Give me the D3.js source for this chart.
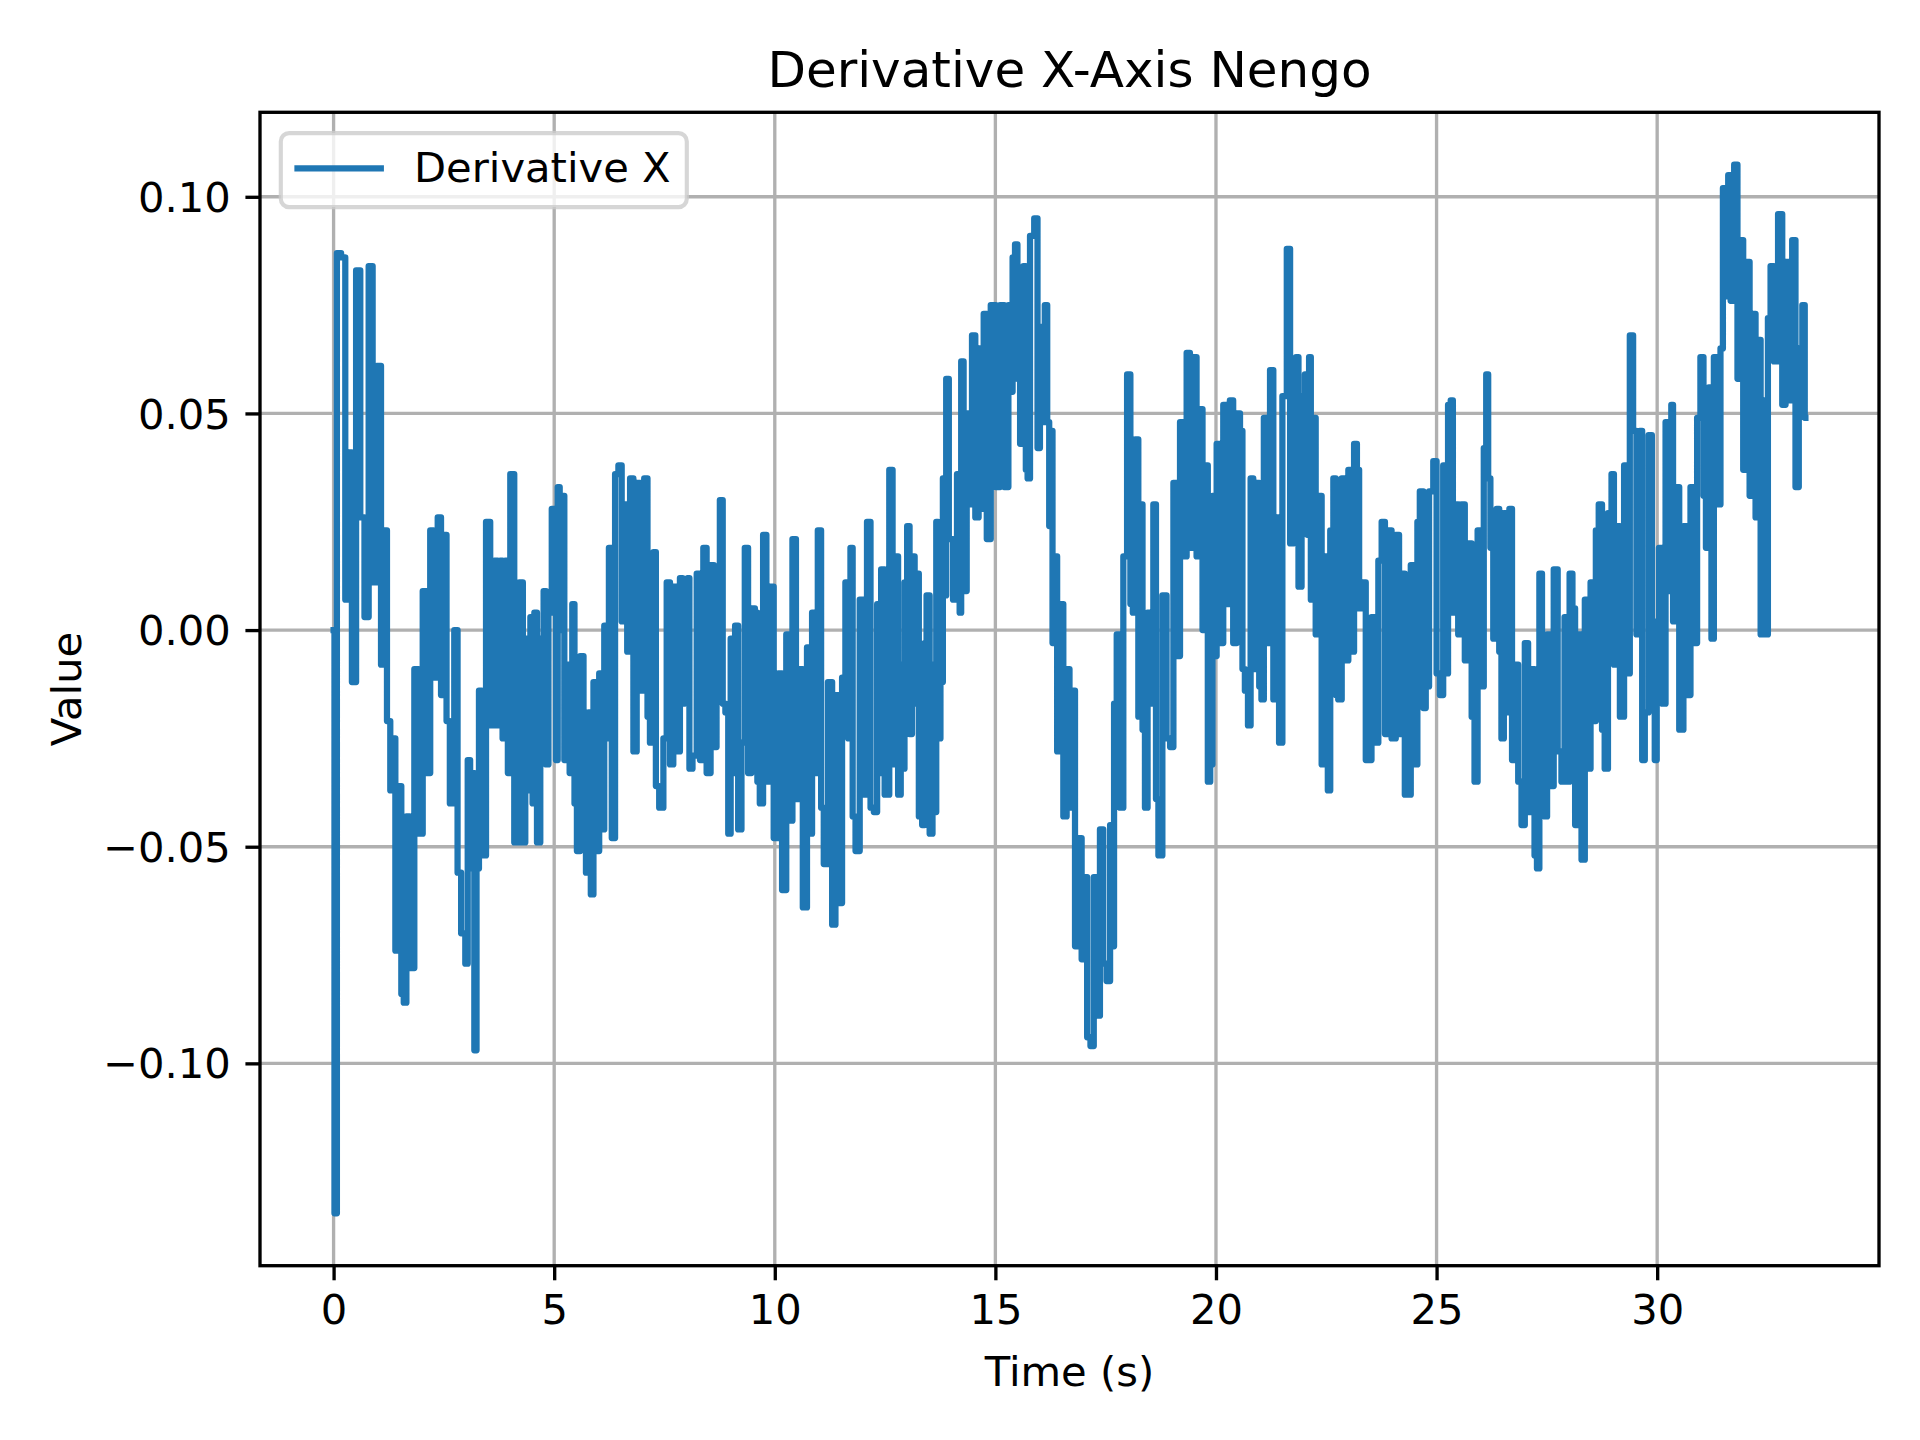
<!DOCTYPE html>
<html>
<head>
<meta charset="utf-8">
<title>Derivative X-Axis Nengo</title>
<script src="https://cdn.jsdelivr.net/npm/d3@7"></script>
<style>
  html, body { margin: 0; padding: 0; background: #ffffff; }
  svg { display: block; font-family: "DejaVu Sans", sans-serif; }
</style>
</head>
<body>
<div id="derivative-chart"></div>
<script>
// -------------------------------------------------------------------------
// Data (seconds / value)

const timeS = [
  // 0 - 5 s
  0.00, 0.04, 0.11, 0.23, 0.30, 0.38, 0.45, 0.57, 0.64, 0.76, 0.83, 0.94, 1.02, 1.13, 1.17, 1.25,
  1.32, 1.36, 1.44, 1.51, 1.56, 1.62, 1.68, 1.77, 1.89, 1.96, 2.08, 2.15, 2.23, 2.30, 2.42, 2.45,
  2.53, 2.59, 2.68, 2.79, 2.83, 2.95, 3.02, 3.06, 3.13, 3.17, 3.21, 3.27, 3.32, 3.40, 3.51, 3.59,
  3.70, 3.74, 3.81, 3.85, 3.93, 3.97, 4.04, 4.15, 4.27, 4.31, 4.38, 4.43, 4.49, 4.53, 4.57, 4.65,
  4.72, 4.80, 4.83, 4.91, 4.98,
  // 5 - 10 s
  5.02, 5.06, 5.10, 5.15, 5.21, 5.25, 5.32, 5.38, 5.44, 5.48, 5.55, 5.63, 5.70, 5.74, 5.81, 5.85,
  5.93, 6.00, 6.04, 6.12, 6.15, 6.21, 6.27, 6.34, 6.42, 6.49, 6.57, 6.63, 6.68, 6.76, 6.83, 6.91,
  6.98, 7.10, 7.13, 7.21, 7.29, 7.32, 7.44, 7.51, 7.59, 7.66, 7.74, 7.81, 7.89, 7.93, 7.96, 8.00,
  8.05, 8.08, 8.19, 8.27, 8.34, 8.42, 8.49, 8.60, 8.64, 8.72, 8.79, 8.85, 8.91, 8.98, 9.02, 9.07,
  9.13, 9.21, 9.28, 9.36, 9.43, 9.51, 9.59, 9.62, 9.70, 9.77, 9.85, 9.92,
  // 10 - 15 s
  10.03, 10.13, 10.20, 10.32, 10.35, 10.45, 10.51, 10.58, 10.69, 10.77, 10.81, 10.88, 10.92, 11.03,
  11.07, 11.15, 11.26, 11.34, 11.41, 11.49, 11.56, 11.64, 11.69, 11.74, 11.79, 11.87, 11.98, 12.05,
  12.13, 12.21, 12.28, 12.36, 12.39, 12.43, 12.55, 12.64, 12.70, 12.77, 12.82, 12.89, 12.92, 12.96,
  13.04, 13.07, 13.15, 13.19, 13.23, 13.30, 13.38, 13.41, 13.47, 13.55, 13.60, 13.64, 13.68, 13.72,
  13.79, 13.83, 13.87, 13.90, 13.99, 14.09, 14.17, 14.21, 14.24, 14.32, 14.38, 14.43, 14.51, 14.58,
  14.66, 14.70,
  // 15 - 20 s
  14.77, 14.84, 14.95, 15.07, 15.14, 15.26, 15.33, 15.37, 15.41, 15.48, 15.52, 15.60, 15.67, 15.71,
  15.75, 15.82, 15.94, 15.97, 16.05, 16.09, 16.15, 16.20, 16.24, 16.28, 16.31, 16.37, 16.43, 16.50,
  16.58, 16.65, 16.71, 16.77, 16.84, 16.92, 16.99, 17.05, 17.11, 17.20, 17.26, 17.33, 17.41, 17.48,
  17.56, 17.64, 17.67, 17.71, 17.79, 17.86, 17.94, 18.03, 18.09, 18.14, 18.20, 18.28, 18.32, 18.35,
  18.43, 18.47, 18.54, 18.62, 18.66, 18.73, 18.84, 18.92, 19.00, 19.07, 19.15, 19.22, 19.30, 19.37,
  19.45, 19.52, 19.60, 19.68, 19.71, 19.79, 19.84, 19.90,
  // 20 - 25 s
  19.94, 19.98, 20.05, 20.13, 20.20, 20.28, 20.35, 20.43, 20.51, 20.58, 20.62, 20.69, 20.76, 20.81,
  20.88, 20.96, 21.00, 21.06, 21.11, 21.19, 21.26, 21.34, 21.41, 21.45, 21.56, 21.65, 21.71, 21.79,
  21.84, 21.90, 21.98, 22.05, 22.09, 22.13, 22.17, 22.24, 22.28, 22.36, 22.43, 22.51, 22.56, 22.62,
  22.70, 22.73, 22.81, 22.89, 22.96, 23.04, 23.10, 23.16, 23.23, 23.26, 23.38, 23.41, 23.49, 23.56,
  23.64, 23.72, 23.79, 23.87, 23.94, 24.02, 24.13, 24.17, 24.24, 24.32, 24.40, 24.43, 24.55, 24.58,
  24.66, 24.74, 24.77, 24.89, 24.96,
  // 25 - 30 s
  25.04, 25.11, 25.19, 25.23, 25.29, 25.35, 25.39, 25.45, 25.53, 25.60, 25.68, 25.76, 25.83, 25.89,
  25.97, 26.04, 26.10, 26.15, 26.19, 26.25, 26.32, 26.40, 26.44, 26.50, 26.55, 26.62, 26.68, 26.74,
  26.81, 26.89, 26.96, 27.04, 27.11, 27.19, 27.25, 27.30, 27.36, 27.42, 27.48, 27.53, 27.61, 27.70,
  27.79, 27.87, 27.93, 27.98, 28.05, 28.11, 28.17, 28.25, 28.32, 28.40, 28.47, 28.51, 28.59, 28.63,
  28.72, 28.78, 28.84, 28.93, 29.00, 29.04, 29.12, 29.19, 29.31, 29.34, 29.42, 29.49, 29.57, 29.64,
  29.68, 29.76, 29.85, 29.91, 29.98,
  // 30 s - end
  30.00, 30.08, 30.15, 30.23, 30.30, 30.34, 30.38, 30.45, 30.55, 30.64, 30.72, 30.79, 30.87, 30.94,
  31.02, 31.08, 31.13, 31.21, 31.25, 31.32, 31.40, 31.47, 31.51, 31.59, 31.63, 31.70, 31.79, 31.85,
  31.93, 31.97, 32.04, 32.15, 32.19, 32.27, 32.31, 32.38, 32.46, 32.49, 32.53, 32.61, 32.68, 32.80,
  32.87, 32.95, 33.02, 33.10, 33.17, 33.25, 33.33, 33.36
];

const derivX = [
  // 0 - 5 s
  0.000, -0.1346, 0.087, 0.086, 0.007, 0.041, -0.012, 0.083, 0.026, 0.003, 0.084, 0.011, 0.061, -0.008, 0.023, -0.021,
  -0.037, -0.025, -0.074, -0.036, -0.084, -0.086, -0.043, -0.078, -0.009, -0.047, 0.009, -0.033, 0.023, -0.011, 0.026, -0.015,
  0.022, -0.021, -0.040, 0.000, -0.056, -0.070, -0.077, -0.030, -0.055, -0.033, -0.097, -0.055, -0.014, -0.052, 0.025, -0.022,
  0.016, -0.022, 0.016, -0.025, 0.016, -0.033, 0.036, -0.049, 0.011, -0.049, -0.002, -0.037, 0.003, -0.040, 0.004, -0.049,
  -0.002, 0.009, -0.031, 0.004, 0.028,
  // 5 - 10 s
  0.007, -0.030, 0.033, 0.000, 0.031, -0.030, -0.008, -0.033, 0.006, -0.040, -0.051, -0.006, -0.040, -0.056, -0.019, -0.061,
  -0.012, -0.051, -0.010, -0.046, 0.001, -0.025, 0.019, -0.048, 0.036, 0.038, 0.002, 0.029, -0.005, 0.035, -0.028, 0.034,
  -0.014, 0.035, -0.020, -0.026, 0.018, -0.036, -0.041, -0.025, 0.011, -0.031, 0.010, -0.028, 0.012, -0.017, 0.008, -0.015,
  0.012, -0.032, -0.029, 0.013, -0.030, 0.019, -0.033, 0.015, -0.027, 0.000, 0.030, -0.017, -0.019, -0.047, -0.002, -0.033,
  0.001, -0.046, -0.026, 0.019, -0.033, 0.005, 0.004, -0.035, -0.040, 0.022, -0.035, 0.010,
  // 10 - 15 s
  -0.048, -0.010, -0.060, -0.001, -0.044, 0.021, -0.039, -0.009, -0.064, -0.004, -0.047, 0.004, -0.033, 0.023,
  -0.041, -0.054, -0.012, -0.068, -0.015, -0.063, -0.011, 0.011, -0.025, 0.019, -0.043, -0.051, 0.007, -0.038,
  0.025, -0.041, -0.042, 0.006, -0.033, 0.014, -0.038, 0.037, -0.031, 0.017, -0.038, -0.008, -0.032, 0.011,
  0.024, -0.024, 0.017, -0.017, 0.013, -0.043, -0.045, -0.003, 0.008, -0.047, -0.008, -0.042, 0.025, -0.025,
  -0.012, 0.035, 0.008, 0.058, 0.021, 0.007, 0.036, 0.004, 0.062, 0.009, 0.050, 0.029, 0.068, 0.026,
  0.065, 0.028,
  // 15 - 20 s
  0.073, 0.021, 0.075, 0.033, 0.075, 0.033, 0.075, 0.055, 0.086, 0.089, 0.058, 0.043, 0.084, 0.037,
  0.035, 0.091, 0.095, 0.042, 0.070, 0.048, 0.075, 0.048, 0.024, 0.046, -0.003, 0.017, -0.028, 0.006,
  -0.043, -0.009, -0.041, -0.014, -0.073, -0.048, -0.076, -0.057, -0.094, -0.096, -0.057, -0.089, -0.046, -0.077,
  -0.081, -0.045, -0.073, -0.017, -0.001, -0.041, 0.017, 0.059, 0.006, 0.004, 0.044, -0.020, 0.029, -0.023,
  -0.041, 0.004, -0.017, 0.029, -0.039, -0.052, 0.008, -0.025, -0.027, 0.034, -0.006, 0.048, 0.017, 0.064,
  0.019, 0.063, 0.017, 0.051, 0.000, 0.038, -0.035, -0.031,
  // 20 - 25 s
  0.031, -0.006, 0.043, -0.003, 0.052, 0.006, 0.053, -0.003, 0.050, 0.046, -0.009, -0.014, -0.022, 0.035,
  -0.009, 0.034, -0.013, -0.016, 0.049, -0.003, 0.060, -0.016, 0.026, -0.026, 0.054, 0.088, 0.020, 0.054,
  0.063, 0.010, 0.054, 0.059, 0.022, 0.063, 0.007, 0.049, -0.001, 0.031, -0.031, 0.017, -0.037, 0.023,
  0.035, -0.015, -0.016, 0.035, -0.007, 0.037, -0.005, 0.043, 0.037, 0.005, 0.011, -0.030, -0.030, 0.003,
  -0.026, 0.016, 0.025, -0.024, 0.023, -0.025, 0.022, -0.024, 0.013, -0.038, -0.038, 0.015, -0.031, 0.025,
  0.032, -0.018, -0.013, 0.032, 0.039,
  // 25 - 30 s
  -0.010, -0.015, 0.038, -0.010, 0.052, 0.053, 0.004, 0.029, -0.001, 0.029, -0.007, 0.020, -0.020, -0.035,
  0.023, -0.013, 0.042, 0.059, 0.035, 0.019, -0.002, 0.028, -0.005, -0.025, 0.027, -0.019, 0.028, -0.030,
  -0.008, -0.035, -0.045, -0.003, -0.042, -0.009, -0.052, -0.055, 0.013, -0.027, -0.043, -0.001, -0.036, 0.014,
  -0.028, -0.035, 0.003, -0.035, 0.013, 0.005, -0.045, -0.001, -0.053, 0.007, -0.032, 0.011, -0.021, 0.023,
  0.029, -0.023, -0.032, 0.027, 0.036, -0.008, 0.024, -0.020, 0.038, -0.010, 0.068, 0.046, -0.001, 0.046,
  -0.030, -0.019, 0.045, 0.002, -0.030,
  // 30 s - end
  -0.016, 0.019, -0.017, 0.048, 0.009, 0.052, 0.002, 0.033, -0.023, 0.024, -0.015, 0.033, -0.003, 0.049,
  0.063, 0.031, 0.019, 0.056, -0.002, 0.063, 0.029, 0.065, 0.102, 0.077, 0.105, 0.076, 0.1074, 0.058,
  0.090, 0.037, 0.085, 0.031, 0.073, 0.026, 0.067, -0.001, 0.053, -0.001, 0.072, 0.084, 0.062, 0.096,
  0.052, 0.085, 0.053, 0.090, 0.033, 0.065, 0.075, 0.049
];

const xTicks = [0, 5, 10, 15, 20, 25, 30];
const yTicks = [-0.10, -0.05, 0.00, 0.05, 0.10];

const chartTitle = 'Derivative X-Axis Nengo';
const xLabel = 'Time (s)';
const yLabel = 'Value';
const seriesName = 'Derivative X';

// -------------------------------------------------------------------------
// Layout (matplotlib look at 300 dpi: 1pt = 4.1667px)

const width = 1920;
const height = 1440;
const pt = 300 / 72;
const fontSize = 10 * pt;
const lineColor = '#1f77b4';
const plot = { left: 260, right: 1879, top: 112.3, bottom: 1265.7 };

// matplotlib style 5% data margins
function paddedDomain(values) {
  let lo = d3.min(values);
  let hi = d3.max(values);
  let pad = (hi - lo) * 0.05;
  return [lo - pad, hi + pad];
}

const xScale = d3.scaleLinear().domain(paddedDomain(timeS)).range([plot.left, plot.right]);
const yScale = d3.scaleLinear().domain(paddedDomain(derivX)).range([plot.bottom, plot.top]);

const svg = d3.select('#derivative-chart').append('svg')
  .attr('width', width)
  .attr('height', height);

svg.append('rect').attr('width', width).attr('height', height).attr('fill', '#ffffff');

// grid
svg.append('g').attr('class', 'grid-x')
  .selectAll('line').data(xTicks).enter().append('line')
  .attr('x1', (d) => xScale(d)).attr('x2', (d) => xScale(d))
  .attr('y1', plot.top).attr('y2', plot.bottom)
  .attr('stroke', '#b0b0b0').attr('stroke-width', 0.8 * pt);

svg.append('g').attr('class', 'grid-y')
  .selectAll('line').data(yTicks).enter().append('line')
  .attr('x1', plot.left).attr('x2', plot.right)
  .attr('y1', (d) => yScale(d)).attr('y2', (d) => yScale(d))
  .attr('stroke', '#b0b0b0').attr('stroke-width', 0.8 * pt);

// series: the sampled signal jumps between held levels, so draw it as steps
const points = timeS.map((t, i) => ({ t: t, v: derivX[i] }));
const line = d3.line()
  .curve(d3.curveStep)
  .x((d) => xScale(d.t))
  .y((d) => yScale(d.v));

svg.append('path')
  .datum(points)
  .attr('d', line)
  .attr('fill', 'none')
  .attr('stroke', lineColor)
  .attr('stroke-width', 1.5 * pt)
  .attr('stroke-linejoin', 'round')
  .attr('stroke-linecap', 'square');

// axes
const xAxis = d3.axisBottom(xScale).tickValues(xTicks).tickFormat(d3.format('d'))
  .tickSizeInner(3.5 * pt).tickSizeOuter(0).tickPadding(3.5 * pt);
const yAxis = d3.axisLeft(yScale).tickValues(yTicks).tickFormat(d3.format('.2f'))
  .tickSizeInner(3.5 * pt).tickSizeOuter(0).tickPadding(3.5 * pt);

const gx = svg.append('g').attr('transform', `translate(0,${plot.bottom})`).call(xAxis);
const gy = svg.append('g').attr('transform', `translate(${plot.left},0)`).call(yAxis);

[gx, gy].forEach((g) => {
  g.select('.domain').remove();
  g.selectAll('.tick line').attr('stroke', '#000').attr('stroke-width', 0.8 * pt);
  g.selectAll('.tick text')
    .attr('fill', '#000')
    .style('font-family', '"DejaVu Sans", sans-serif')
    .style('font-size', `${fontSize}px`);
});
gx.selectAll('.tick text').attr('dy', null).attr('y', 58).attr('dominant-baseline', 'auto');
gy.selectAll('.tick text').attr('dy', '0.35em');

// spines
svg.append('rect')
  .attr('x', plot.left).attr('y', plot.top)
  .attr('width', plot.right - plot.left).attr('height', plot.bottom - plot.top)
  .attr('fill', 'none').attr('stroke', '#000').attr('stroke-width', 0.8 * pt)
  .attr('stroke-linecap', 'square');

// labels
svg.append('text')
  .attr('x', (plot.left + plot.right) / 2).attr('y', 87)
  .attr('text-anchor', 'middle')
  .style('font-size', `${12 * pt}px`)
  .text(chartTitle);

svg.append('text')
  .attr('x', (plot.left + plot.right) / 2).attr('y', 1386)
  .attr('text-anchor', 'middle')
  .style('font-size', `${fontSize}px`)
  .text(xLabel);

svg.append('text')
  .attr('transform', `translate(81,${(plot.top + plot.bottom) / 2}) rotate(-90)`)
  .attr('text-anchor', 'middle')
  .style('font-size', `${fontSize}px`)
  .text(yLabel);

// legend
const legend = svg.append('g').attr('class', 'legend');
legend.append('rect')
  .attr('x', 280.8).attr('y', 133.1)
  .attr('width', 406).attr('height', 74)
  .attr('rx', 0.2 * fontSize).attr('ry', 0.2 * fontSize)
  .attr('fill', 'rgba(255,255,255,0.8)')
  .attr('stroke', 'rgba(204,204,204,0.8)')
  .attr('stroke-width', 1.0 * pt);
legend.append('line')
  .attr('x1', 297.5).attr('x2', 380.8)
  .attr('y1', 168.3).attr('y2', 168.3)
  .attr('stroke', lineColor).attr('stroke-width', 1.5 * pt)
  .attr('stroke-linecap', 'square');
legend.append('text')
  .attr('x', 414).attr('y', 182.3)
  .style('font-size', `${fontSize}px`)
  .text(seriesName);
</script>
</body>
</html>
